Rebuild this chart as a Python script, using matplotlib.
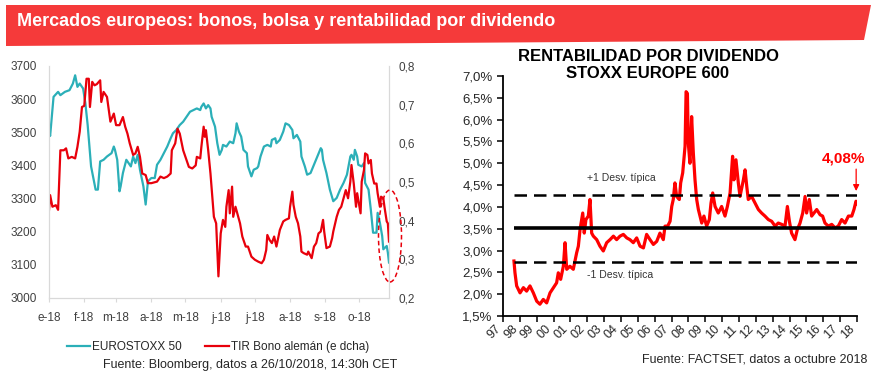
import numpy as np
import matplotlib
matplotlib.use("Agg")
import matplotlib.pyplot as plt
from matplotlib.patches import Polygon, Ellipse

plt.rcParams['font.family'] = ['Liberation Sans', 'DejaVu Sans']

# ---- left chart: EUROSTOXX 50 (left axis) and German 10y yield (right axis), 2018
month_labels = ['e-18', 'f-18', 'm-18', 'a-18', 'm-18', 'j-18', 'j-18', 'a-18', 's-18', 'o-18']
month_starts = [0, 31, 59, 90, 120, 151, 181, 212, 243, 273]  # day of year

stoxx_days = [0, 1, 4, 8, 10, 14, 18, 21, 23, 25,
              27, 30, 32, 34, 37, 41, 43, 45, 48, 51,
              55, 57, 58, 60, 62, 63, 65, 68, 72, 74,
              76, 78, 80, 83, 85, 87, 90, 93, 95, 98,
              101, 104, 107, 109, 112, 115, 118, 121, 124, 127,
              130, 133, 134, 136, 138, 140, 142, 143, 146, 148,
              150, 152, 153, 156, 159, 162, 164, 165, 167, 169,
              171, 174, 175, 177, 178, 180, 183, 184, 186, 189,
              192, 195, 196, 199, 200, 203, 206, 208, 211, 214,
              215, 218, 221, 222, 225, 227, 230, 233, 236, 239,
              240, 241, 244, 247, 250, 253, 256, 259, 262, 265,
              266, 268, 269, 271, 272, 275, 277, 278, 281, 283,
              285, 288, 289, 291, 293, 294, 297, 298, 299]
stoxx_vals = [3507, 3489, 3607, 3622, 3612, 3622, 3627, 3647, 3672, 3637,
              3647, 3632, 3587, 3522, 3397, 3327, 3327, 3412, 3417, 3427,
              3437, 3457, 3447, 3417, 3322, 3337, 3377, 3417, 3397, 3427,
              3407, 3432, 3387, 3337, 3282, 3352, 3362, 3362, 3402, 3417,
              3437, 3457, 3482, 3497, 3507, 3522, 3532, 3547, 3562, 3567,
              3572, 3567, 3577, 3587, 3572, 3582, 3572, 3547, 3517, 3467,
              3432, 3447, 3462, 3457, 3472, 3467, 3497, 3527, 3502, 3487,
              3447, 3437, 3397, 3377, 3367, 3387, 3392, 3397, 3427, 3457,
              3462, 3457, 3477, 3482, 3467, 3477, 3502, 3527, 3522, 3507,
              3482, 3492, 3472, 3427, 3397, 3372, 3377, 3402, 3427, 3452,
              3447, 3417, 3377, 3327, 3292, 3302, 3327, 3347, 3372, 3427,
              3432, 3417, 3447, 3427, 3402, 3397, 3407, 3347, 3327, 3267,
              3197, 3197, 3257, 3227, 3187, 3147, 3157, 3137, 3107]

bund_days = [0, 1, 3, 6, 8, 10, 13, 15, 17, 20,
             23, 25, 27, 29, 31, 33, 35, 36, 38, 40,
             42, 45, 46, 48, 51, 54, 57, 59, 62, 65,
             67, 69, 71, 74, 76, 78, 80, 82, 85, 87,
             90, 95, 98, 101, 104, 107, 108, 111, 113, 115,
             118, 120, 123, 126, 129, 130, 133, 134, 136, 137,
             138, 140, 142, 145, 147, 148, 149, 151, 153, 155,
             156, 158, 159, 161, 162, 164, 168, 170, 173, 175,
             178, 181, 184, 187, 189, 191, 192, 194, 196, 198,
             200, 203, 206, 208, 211, 212, 214, 215, 217, 219,
             221, 222, 224, 227, 228, 231, 233, 235, 237, 239,
             241, 242, 244, 247, 249, 250, 253, 255, 257, 259,
             261, 263, 265, 266, 268, 270, 271, 274, 275, 277,
             278, 280, 281, 283, 284, 286, 288, 289, 291, 292,
             294, 295, 297, 298, 299]
bund_vals = [0.428, 0.466, 0.436, 0.440, 0.428, 0.582, 0.582, 0.587, 0.561, 0.565,
             0.561, 0.591, 0.630, 0.694, 0.697, 0.767, 0.767, 0.694, 0.759, 0.750,
             0.753, 0.763, 0.707, 0.733, 0.720, 0.656, 0.677, 0.647, 0.647, 0.668,
             0.643, 0.625, 0.600, 0.570, 0.574, 0.591, 0.565, 0.522, 0.518, 0.497,
             0.497, 0.501, 0.514, 0.510, 0.514, 0.522, 0.582, 0.600, 0.638, 0.625,
             0.582, 0.565, 0.539, 0.535, 0.543, 0.565, 0.561, 0.591, 0.643, 0.617,
             0.634, 0.582, 0.522, 0.410, 0.393, 0.324, 0.256, 0.367, 0.402, 0.384,
             0.436, 0.479, 0.419, 0.488, 0.410, 0.436, 0.393, 0.359, 0.333, 0.333,
             0.307, 0.299, 0.294, 0.290, 0.299, 0.324, 0.363, 0.350, 0.342, 0.359,
             0.333, 0.376, 0.398, 0.402, 0.406, 0.436, 0.475, 0.441, 0.410, 0.393,
             0.359, 0.320, 0.316, 0.312, 0.320, 0.303, 0.333, 0.342, 0.367, 0.372,
             0.402, 0.372, 0.329, 0.333, 0.355, 0.372, 0.410, 0.428, 0.436, 0.458,
             0.479, 0.458, 0.501, 0.544, 0.496, 0.436, 0.471, 0.419, 0.501, 0.531,
             0.574, 0.570, 0.548, 0.557, 0.522, 0.496, 0.496, 0.471, 0.436, 0.462,
             0.458, 0.436, 0.398, 0.393, 0.346]

# ---- right chart: dividend yield STOXX Europe 600
year_labels = ['97', '98', '99', '00', '01', '02', '03', '04', '05', '06', '07',
               '08', '09', '10', '11', '12', '13', '14', '15', '16', '17', '18']
dy_years = [1997.65, 1997.71, 1997.81, 1998.01, 1998.21, 1998.40, 1998.60, 1998.80, 1999.00, 1999.19,
            1999.39, 1999.59, 1999.79, 1999.99, 2000.18, 2000.28, 2000.42, 2000.58, 2000.68, 2000.78,
            2000.97, 2001.17, 2001.37, 2001.47, 2001.57, 2001.73, 2001.82, 2001.92, 2002.06, 2002.16,
            2002.26, 2002.36, 2002.56, 2002.75, 2002.95, 2003.15, 2003.35, 2003.55, 2003.74, 2003.94,
            2004.14, 2004.34, 2004.53, 2004.73, 2004.93, 2005.13, 2005.33, 2005.52, 2005.72, 2005.92,
            2006.12, 2006.31, 2006.51, 2006.61, 2006.77, 2006.91, 2007.01, 2007.10, 2007.20, 2007.30,
            2007.46, 2007.54, 2007.66, 2007.80, 2007.86, 2007.94, 2007.99, 2008.09, 2008.19, 2008.29,
            2008.39, 2008.49, 2008.59, 2008.69, 2008.79, 2008.92, 2009.08, 2009.24, 2009.34, 2009.44,
            2009.58, 2009.77, 2009.97, 2010.17, 2010.31, 2010.47, 2010.62, 2010.70, 2010.82, 2010.96,
            2011.06, 2011.26, 2011.36, 2011.46, 2011.55, 2011.75, 2011.95, 2012.15, 2012.34, 2012.54,
            2012.74, 2012.94, 2013.14, 2013.33, 2013.53, 2013.73, 2013.87, 2013.99, 2014.12, 2014.32,
            2014.46, 2014.62, 2014.78, 2014.92, 2015.01, 2015.17, 2015.31, 2015.45, 2015.61, 2015.81,
            2015.96, 2016.10, 2016.30, 2016.50, 2016.70, 2016.89, 2017.09, 2017.29, 2017.49, 2017.69,
            2017.82, 2017.94, 2018.00]
dy_vals = [2.76, 2.49, 2.19, 2.03, 2.15, 2.07, 2.19, 2.03, 1.84, 1.77,
           1.88, 1.80, 2.03, 2.15, 2.26, 2.49, 2.34, 2.64, 3.18, 2.57,
           2.64, 2.57, 2.95, 3.10, 3.48, 3.86, 3.40, 3.71, 3.79, 4.17,
           3.40, 3.33, 3.25, 3.10, 2.99, 3.18, 3.25, 3.33, 3.25, 3.33,
           3.37, 3.29, 3.25, 3.18, 3.29, 3.10, 3.06, 3.37, 3.25, 3.14,
           3.21, 3.40, 3.25, 3.56, 3.56, 3.67, 4.01, 4.17, 4.55, 4.24,
           4.17, 4.55, 4.78, 5.39, 6.64, 6.60, 5.47, 5.00, 6.07, 5.24,
           4.62, 4.17, 3.94, 3.79, 3.63, 3.79, 3.56, 3.71, 4.09, 4.32,
           4.01, 3.86, 4.01, 3.79, 4.01, 4.32, 5.16, 4.62, 5.08, 4.55,
           4.24, 4.62, 4.85, 4.47, 4.17, 4.24, 4.09, 3.94, 3.86, 3.79,
           3.71, 3.67, 3.56, 3.63, 3.60, 3.56, 4.01, 3.67, 3.40, 3.25,
           3.48, 3.63, 3.86, 4.24, 3.86, 4.17, 3.79, 3.86, 3.94, 3.82,
           3.79, 3.63, 3.56, 3.60, 3.52, 3.56, 3.71, 3.63, 3.79, 3.79,
           3.94, 4.13, 4.08]
dy_mean = 3.52
dy_plus_sd = 4.28
dy_minus_sd = 2.73
dy_last = 4.08

TEAL = '#2BAFB8'
RED = '#E8000B'
BANNER = '#F53A3A'

fig = plt.figure(figsize=(8.8, 3.77), dpi=100)
W, H = 880.0, 377.0

# banner
fig.patches.append(Polygon([(6 / W, 1 - 5 / H), (871 / W, 1 - 5 / H), (864 / W, 1 - 40 / H), (6 / W, 1 - 46 / H)],
                           closed=True, transform=fig.transFigure, facecolor=BANNER, edgecolor='none', zorder=0))
fig.text(17 / W, 1 - 21 / H, 'Mercados europeos: bonos, bolsa y rentabilidad por dividendo',
         fontsize=13, fontweight='bold', color='white', va='center', ha='left')

# ---- left chart
ax1 = fig.add_axes([49 / W, 1 - 298 / H, 340 / W, 232 / H])
ax2 = ax1.twinx()
ax1.plot(stoxx_days, stoxx_vals, color=TEAL, lw=1.6, label='EUROSTOXX 50')
ax2.plot(bund_days, bund_vals, color=RED, lw=1.6, label='TIR Bono alemán (e dcha)')
ax1.set_xlim(0, 299)
ax1.set_ylim(3000, 3700)
ax2.set_ylim(0.2, 0.8)
ax1.set_yticks(range(3000, 3701, 100))
ax2.set_yticks(np.arange(0.2, 0.81, 0.1))
ax2.set_yticklabels([f'{v:.1f}'.replace('.', ',') for v in np.arange(0.2, 0.81, 0.1)])
ax1.set_xticks(month_starts)
ax1.set_xticklabels(month_labels)
for a in (ax1, ax2):
    for s in a.spines.values():
        s.set_color('#D9D9D9')
        s.set_linewidth(0.8)
    a.spines['top'].set_visible(False)
    a.tick_params(axis='y', length=0, labelsize=8.5, colors='#404040', pad=7)
ax1.tick_params(axis='y', pad=8.5)
ax1.tick_params(axis='x', length=3, color='#D9D9D9', labelsize=8.5, labelcolor='#404040', pad=7)

fig.patches.append(Ellipse((390 / W, 1 - 236 / H), 23 / W, 92 / H, transform=fig.transFigure,
                           fill=False, edgecolor=RED, linestyle=(0, (3, 2)), lw=1.1, zorder=5))

h1, l1 = ax1.get_legend_handles_labels()
h2, l2 = ax2.get_legend_handles_labels()
fig.legend(h1 + h2, l1 + l2, loc='center left', bbox_to_anchor=(62 / W, 1 - 347 / H), ncol=2,
           frameon=False, fontsize=8.5, handlelength=2.0, handletextpad=0.15, columnspacing=2.0,
           borderaxespad=0, labelcolor='#262626')
fig.text(103 / W, 1 - 365 / H, 'Fuente: Bloomberg, datos a 26/10/2018, 14:30h CET',
         fontsize=9, color='#262626', va='center', ha='left')

# ---- right chart
ax3 = fig.add_axes([503 / W, 1 - 316 / H, 354 / W, 240 / H])
ax3.plot(dy_years, dy_vals, color='#FF0000', lw=2.3, zorder=2)
x0, x1 = dy_years[0], 2018.0
ax3.hlines(dy_mean, x0, x1, color='black', lw=2.6, zorder=3)
ax3.hlines([dy_plus_sd, dy_minus_sd], x0, x1, color='black', lw=1.8, linestyles=[(0, (5, 2.8))], zorder=3)
ax3.set_xlim(1997, 2018)
ax3.set_ylim(1.5, 7.0)
yt = np.arange(1.5, 7.01, 0.5)
ax3.set_yticks(yt)
ax3.set_yticklabels([f'{v:.1f}%'.replace('.', ',') for v in yt])
ax3.set_xticks(range(1997, 2019))
ax3.set_xticklabels(year_labels, rotation=45, ha='right')
for s in ('top', 'right'):
    ax3.spines[s].set_visible(False)
for s in ('left', 'bottom'):
    ax3.spines[s].set_linewidth(1.3)
ax3.tick_params(direction='out', length=4, width=1.1, labelsize=9.5, colors='black', labelcolor='#262626')
ax3.tick_params(axis='x', pad=1, labelsize=9)

ax3.text(2002.0, 4.66, '+1 Desv. típica', fontsize=7.5, color='#333333', va='center', ha='left')
ax3.text(2002.0, 2.43, '-1 Desv. típica', fontsize=7.5, color='#333333', va='center', ha='left')
ax3.text(2017.2, 5.12, f'{dy_last:.2f}%'.replace('.', ','), fontsize=11, fontweight='bold',
         color='#FF0000', ha='center', va='center')
ax3.annotate('', xy=(2017.95, 4.30), xytext=(2017.95, 4.93),
             arrowprops=dict(arrowstyle='-|>', color='#FF0000', lw=0.9, mutation_scale=9))
fig.text(648 / W, 1 - 65 / H, 'RENTABILIDAD POR DIVIDENDO\nSTOXX EUROPE 600', fontsize=12,
         fontweight='bold', ha='center', va='center', linespacing=1.2)
fig.text(867 / W, 1 - 360 / H, 'Fuente: FACTSET, datos a octubre 2018', fontsize=9,
         color='#262626', ha='right', va='center')

fig.savefig('out.png', dpi=100)
